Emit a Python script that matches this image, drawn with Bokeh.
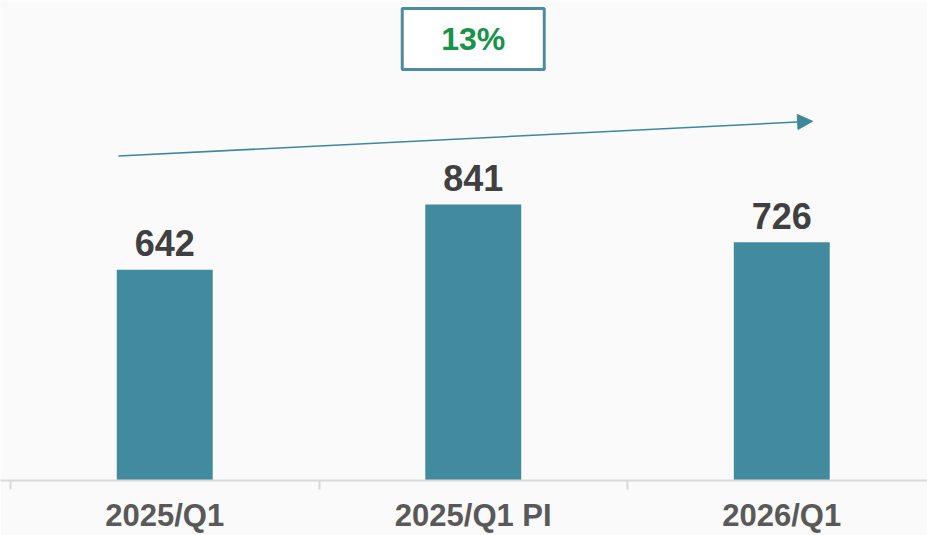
from bokeh.plotting import figure
from bokeh.models import Range1d, FixedTicker, ColumnDataSource, Arrow, NormalHead
from bokeh.core.properties import value
from bokeh.transform import dodge
from bokeh.embed import file_html
from bokeh.resources import INLINE

categories = ["2025/Q1", "2025/Q1 PI", "2026/Q1"]
values = [642, 841, 726]
growth_label = f"{round((values[2] / values[0] - 1) * 100)}%"

positions = [0.5, 1.5, 2.5]
BAR = "#428a9e"
FONT = "Liberation Sans"

p = figure(width=927, height=535, output_backend="svg", toolbar_location=None,
           x_range=Range1d(-0.0324, 2.9724), y_range=Range1d(0, 1463),
           min_border_left=0, min_border_right=0, min_border_top=0, min_border_bottom=54)
p.background_fill_color = "#fafafa"
p.border_fill_color = "#fafafa"
p.outline_line_color = None
p.grid.visible = False
p.yaxis.visible = False

src = ColumnDataSource(dict(x=positions, top=values, lab=[str(v) for v in values]))
p.vbar(x="x", top="top", width=0.311, bottom=0, source=src, fill_color=BAR, line_color=None)
p.text(x="x", y=dodge("top", 41, range=p.y_range), text="lab", source=src,
       text_align="center", text_baseline="bottom",
       text_font=value(FONT), text_font_style="bold", text_font_size="36px",
       text_color="#404040")

ax = p.xaxis[0]
ax.ticker = FixedTicker(ticks=positions, minor_ticks=[0, 1, 2, 3])
ax.major_label_overrides = {pos: c for pos, c in zip(positions, categories)}
ax.major_tick_line_color = None
ax.major_tick_out = 0
ax.major_tick_in = 0
ax.minor_tick_line_color = "#d9d9d9"
ax.minor_tick_line_width = 2
ax.minor_tick_out = 9
ax.minor_tick_in = 0
ax.axis_line_color = "#d9d9d9"
ax.axis_line_width = 2
ax.major_label_standoff = 8
ax.major_label_text_font = FONT
ax.major_label_text_font_style = "bold"
ax.major_label_text_font_size = "31px"
ax.major_label_text_color = "#595959"

# trend arrow
p.add_layout(Arrow(x_start=0.35, y_start=989, x_end=2.6, y_end=1095,
                   line_color="#3e889c", line_width=1.5,
                   end=NormalHead(size=15, fill_color="#3e889c", line_color="#3e889c")))

# growth box
p.rect(x=[1.5], y=[1346], width=142, height=61, width_units="screen", height_units="screen",
       fill_color="white", line_color="#4d8c9f", line_width=3)
p.text(x=[1.5], y=[1346], text=[growth_label], text_align="center", text_baseline="middle",
       text_font=value(FONT), text_font_style="bold", text_font_size="32px",
       text_color="#17934a")

open("out.html", "w").write(file_html(p, INLINE))
